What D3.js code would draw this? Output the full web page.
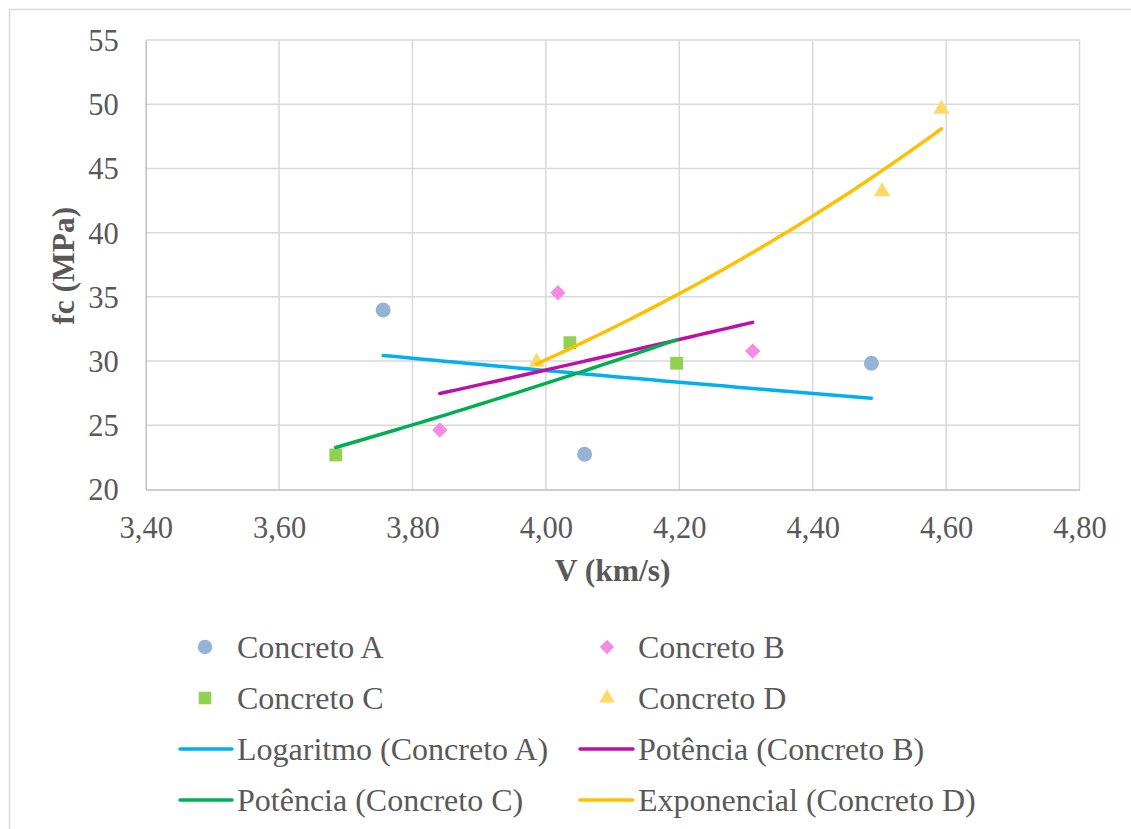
<!DOCTYPE html>
<html>
<head>
<meta charset="utf-8">
<script src="https://cdn.jsdelivr.net/npm/d3@7"></script>
<style>
html,body{margin:0;padding:0;background:#fff;}
svg{display:block;}
text{font-family:"Liberation Serif","Times New Roman",serif;fill:#595959;}
</style>
</head>
<body>
<svg id="chart" width="1131" height="829"></svg>
<script>
// ---- data ----
const xTicks = [3.40, 3.60, 3.80, 4.00, 4.20, 4.40, 4.60, 4.80];
const yTicks = [20, 25, 30, 35, 40, 45, 50, 55];

const seriesNames = ["Concreto A", "Concreto B", "Concreto C", "Concreto D"];
const concretoA_V  = [3.756, 4.058, 4.488];
const concretoA_fc = [33.98, 22.74, 29.83];
const concretoB_V  = [4.018, 3.841, 4.310];
const concretoB_fc = [35.32, 24.63, 30.78];
const concretoC_V  = [3.685, 4.036, 4.196];
const concretoC_fc = [22.69, 31.43, 29.83];
const concretoD_V  = [3.986, 4.504, 4.593];
const concretoD_fc = [29.93, 43.20, 49.63];

const trendNames = ["Logaritmo (Concreto A)", "Potência (Concreto B)", "Potência (Concreto C)", "Exponencial (Concreto D)"];
const trendTypes = ["log", "power", "power", "exp"];

// ---- layout ----
const svg = d3.select("#chart");
const plot = {left: 145.7, right: 1079.5, top: 40, bottom: 489.5};
const x = d3.scaleLinear().domain([3.4, 4.8]).range([plot.left, plot.right]);
const y = d3.scaleLinear().domain([20, 55]).range([plot.bottom, plot.top]);

const markerColors = ["#95b3d7", "#f78ae6", "#92d050", "#ffd966"];
const lineColors = ["#00b0f0", "#c00fa8", "#00b050", "#ffc000"];
const symbols = [d3.symbolCircle, d3.symbolDiamond2, d3.symbolSquare2, d3.symbolTriangle2];

// outer border
svg.append("rect").attr("x", 9.5).attr("y", 9.5).attr("width", 1140).attr("height", 840)
  .attr("fill", "#fff").attr("stroke", "#d9d9d9").attr("stroke-width", 1.5);

// gridlines
const grid = svg.append("g");
grid.selectAll("line.v").data(xTicks.slice(1)).join("line")
  .attr("x1", d => x(d)).attr("x2", d => x(d)).attr("y1", plot.top).attr("y2", plot.bottom)
  .attr("stroke", "#d9d9d9").attr("stroke-width", 1.5);
grid.selectAll("line.h").data(yTicks.slice(1)).join("line")
  .attr("x1", plot.left).attr("x2", plot.right).attr("y1", d => y(d)).attr("y2", d => y(d))
  .attr("stroke", "#d9d9d9").attr("stroke-width", 1.5);

// axes
const xAxis = svg.append("g").attr("transform", `translate(0,${plot.bottom})`)
  .call(d3.axisBottom(x).tickValues(xTicks).tickSize(0).tickPadding(0)
    .tickFormat(d => d3.format(".2f")(d).replace(".", ",")));
xAxis.select(".domain").attr("stroke", "#bfbfbf").attr("stroke-width", 1.5);
xAxis.selectAll("text").attr("font-size", 30.5).attr("dy", 0).attr("y", 48).attr("fill", "#595959")
  .style("font-family", "'Liberation Serif', serif");

const yAxis = svg.append("g").attr("transform", `translate(${plot.left},0)`)
  .call(d3.axisLeft(y).tickValues(yTicks).tickSize(0).tickPadding(0));
yAxis.select(".domain").attr("stroke", "#bfbfbf").attr("stroke-width", 1.5);
yAxis.selectAll("text").attr("font-size", 30.5).attr("x", -27).attr("dy", "0.34em").attr("fill", "#595959")
  .style("font-family", "'Liberation Serif', serif");

// axis titles
svg.append("text").attr("x", (plot.left + plot.right) / 2).attr("y", 581)
  .attr("text-anchor", "middle").attr("font-size", 31.5).attr("font-weight", "bold").text("V (km/s)");
svg.append("text").attr("transform", `translate(74,${(plot.top + plot.bottom) / 2 + 1}) rotate(-90)`)
  .attr("text-anchor", "middle").attr("font-size", 31.5).attr("font-weight", "bold").text("fc (MPa)");

// ---- series ----
const allV = [concretoA_V, concretoB_V, concretoC_V, concretoD_V];
const allFc = [concretoA_fc, concretoB_fc, concretoC_fc, concretoD_fc];

function fitTrend(xs, ys, type) {
  // least squares on transformed variables (as spreadsheet trendlines do)
  const tx = type === "log" || type === "power" ? xs.map(Math.log) : xs.slice();
  const ty = type === "exp" || type === "power" ? ys.map(Math.log) : ys.slice();
  const mx = d3.mean(tx), my = d3.mean(ty);
  const b = d3.sum(tx, (v, i) => (v - mx) * (ty[i] - my)) / d3.sum(tx, v => (v - mx) ** 2);
  const a = my - b * mx;
  return v => {
    const t = (type === "log" || type === "power") ? Math.log(v) : v;
    const r = a + b * t;
    return (type === "exp" || type === "power") ? Math.exp(r) : r;
  };
}

const markerSizes = [177, 150, 210, 190];
const markersG = svg.append("g");
allV.forEach((vs, si) => {
  const pts = vs.map((v, i) => ({v, fc: allFc[si][i]}));
  markersG.append("g").selectAll("path").data(pts).join("path")
    .attr("transform", d => `translate(${x(d.v)},${y(d.fc)})`)
    .attr("d", d3.symbol().type(symbols[si]).size(markerSizes[si]))
    .attr("fill", markerColors[si]);
});

const linesG = svg.append("g");
allV.forEach((vs, si) => {
  const f = fitTrend(vs, allFc[si], trendTypes[si]);
  const [lo, hi] = d3.extent(vs);
  const samples = d3.range(0, 41).map(k => lo + (hi - lo) * k / 40);
  linesG.append("path")
    .attr("d", d3.line().x(v => x(v)).y(v => y(f(v)))(samples))
    .attr("fill", "none").attr("stroke", lineColors[si]).attr("stroke-width", 3.5)
    .attr("stroke-linecap", "round");
});

// ---- legend ----
const legendRows = [647, 698, 749, 800];
const legendCols = [{mx: 205, lx0: 180, lx1: 232, tx: 237}, {mx: 607, lx0: 580, lx1: 633, tx: 638}];
const legendItems = [];
seriesNames.forEach((n, i) => legendItems.push({kind: "marker", idx: i, name: n, row: Math.floor(i / 2), col: i % 2}));
trendNames.forEach((n, i) => legendItems.push({kind: "line", idx: i, name: n, row: 2 + Math.floor(i / 2), col: i % 2}));

const lg = svg.append("g");
legendItems.forEach(it => {
  const c = legendCols[it.col], ry = legendRows[it.row];
  if (it.kind === "marker") {
    lg.append("path").attr("transform", `translate(${c.mx},${ry})`)
      .attr("d", d3.symbol().type(symbols[it.idx]).size([165, 130, 200, 170][it.idx])())
      .attr("fill", markerColors[it.idx]);
  } else {
    lg.append("line").attr("x1", c.lx0).attr("x2", c.lx1).attr("y1", ry).attr("y2", ry)
      .attr("stroke", lineColors[it.idx]).attr("stroke-width", 3.5).attr("stroke-linecap", "round");
  }
  lg.append("text").attr("x", c.tx).attr("y", ry + 11).attr("font-size", 32).text(it.name);
});
</script>
</body>
</html>
